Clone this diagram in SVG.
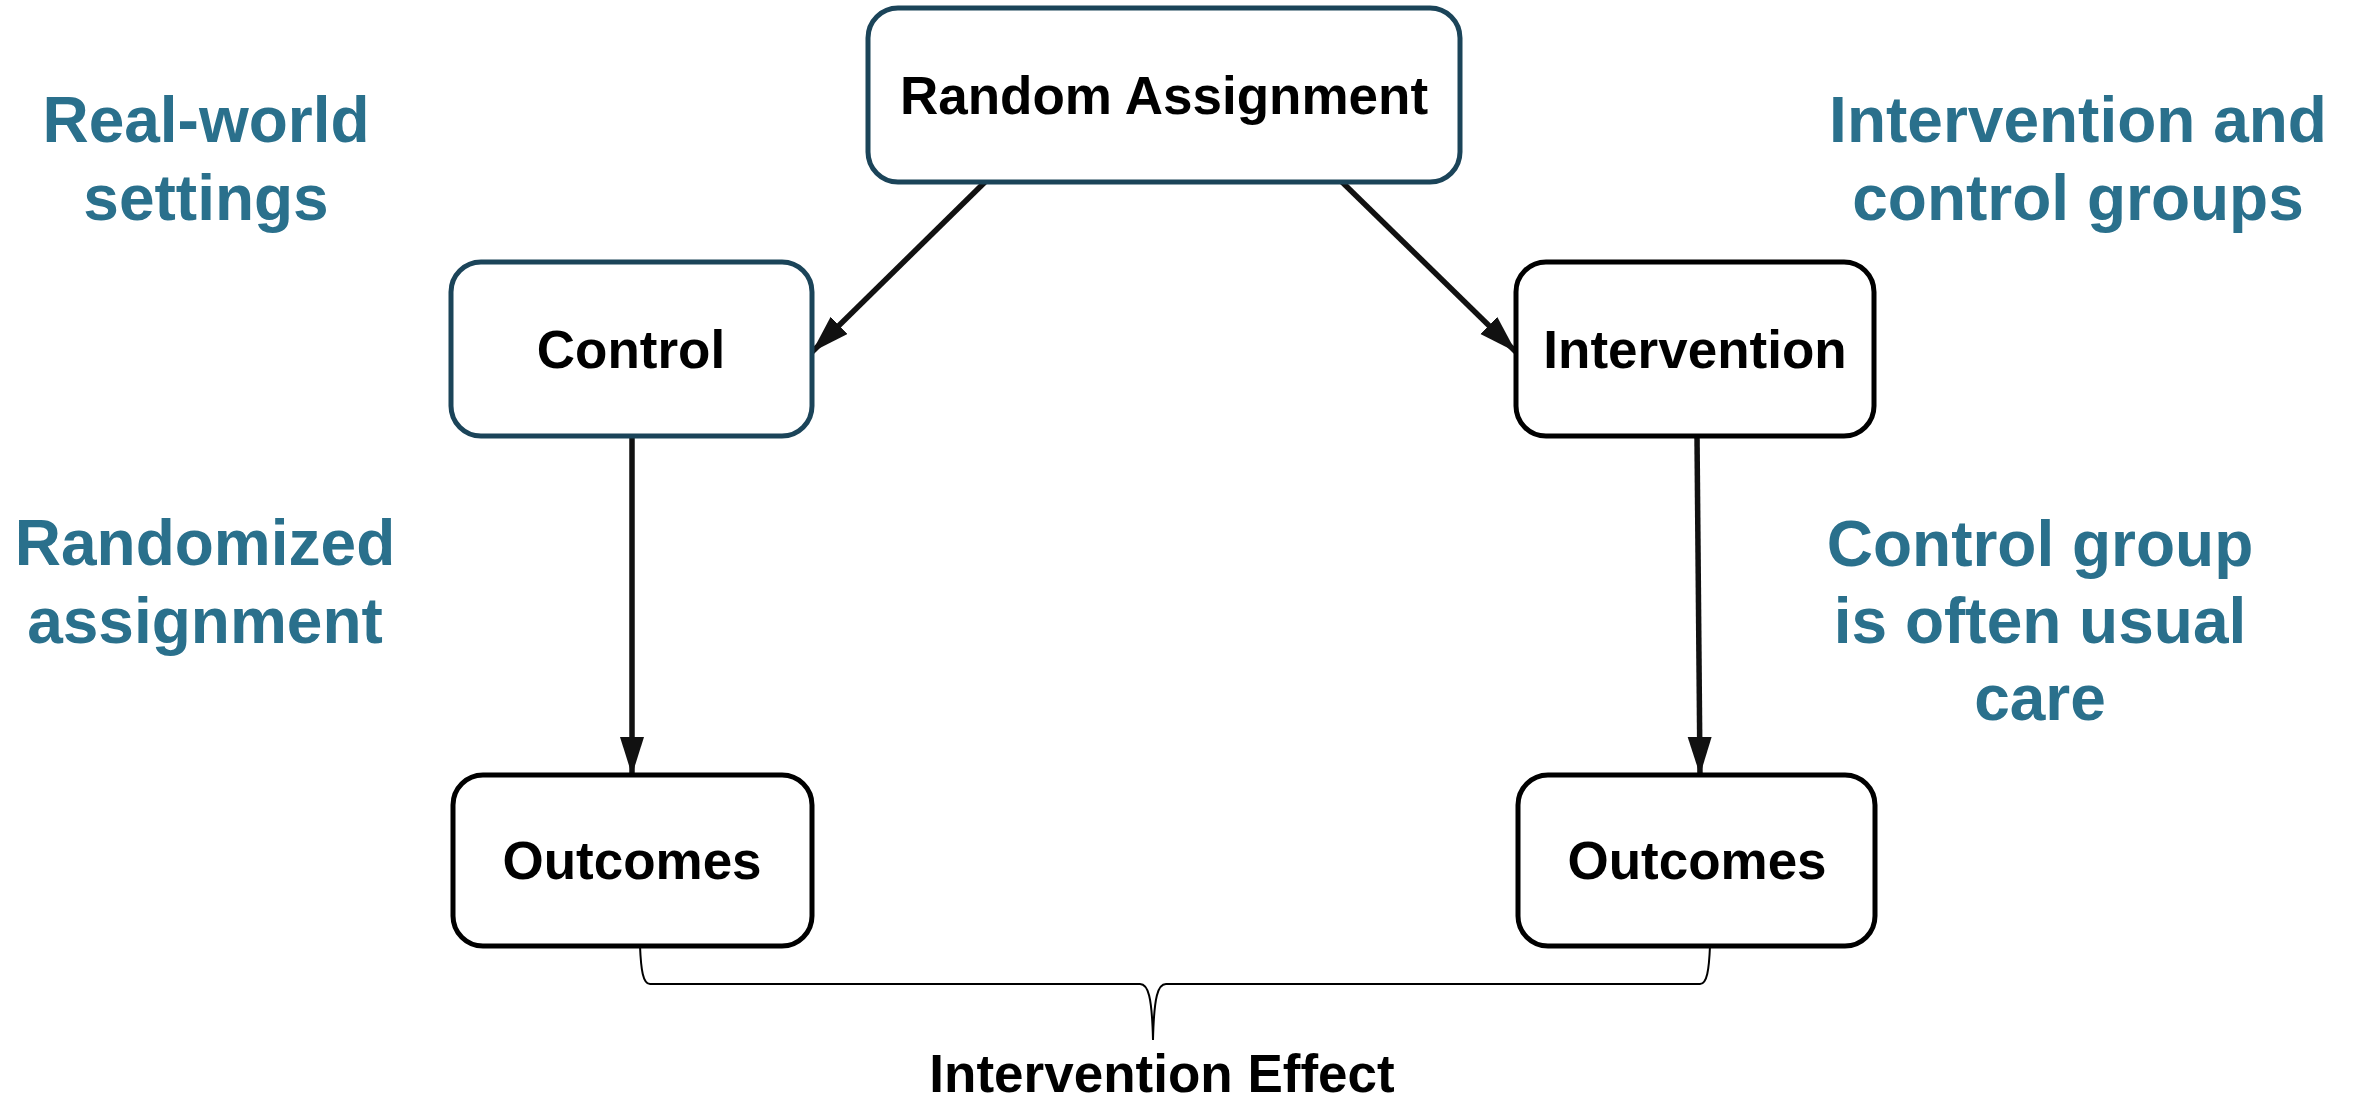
<svg xmlns="http://www.w3.org/2000/svg" width="2358" height="1099" viewBox="0 0 2358 1099">
  <style>
    .box { fill: #ffffff; stroke-width: 5; }
    .teal { stroke: #1b4459; }
    .dark { stroke: #000000; }
    .label { font-family: "Liberation Sans", Arial, sans-serif; font-weight: bold; font-size: 53px; fill: #000000; text-anchor: middle; }
    .note { font-family: "Liberation Sans", Arial, sans-serif; font-weight: bold; font-size: 64px; fill: #2a708c; text-anchor: middle; }
    .conn { stroke: #111111; stroke-width: 5.5; fill: none; }
    .brace { stroke: #000000; stroke-width: 2; fill: none; }
  </style>
  <defs>
    <marker id="arrow" markerUnits="userSpaceOnUse" markerWidth="42" markerHeight="26" refX="38" refY="12" orient="auto">
      <path d="M0,0 L38,12 L0,24 z" fill="#111111"/>
    </marker>
  </defs>
  <rect width="2358" height="1099" fill="#ffffff"/>

  <g id="connectors">
    <line class="conn" x1="985" y1="182" x2="812" y2="352" marker-end="url(#arrow)"/>
    <line class="conn" x1="1342" y1="182" x2="1516" y2="352" marker-end="url(#arrow)"/>
    <line class="conn" x1="632" y1="436" x2="632" y2="775" marker-end="url(#arrow)"/>
    <line class="conn" x1="1697" y1="436" x2="1700" y2="775" marker-end="url(#arrow)"/>
  </g>

  <g id="node-random-assignment">
    <rect class="box teal" x="868" y="8" width="592" height="174" rx="30"/>
    <text class="label" x="1164" y="114">Random Assignment</text>
  </g>
  <g id="node-control">
    <rect class="box teal" x="451" y="262" width="361" height="174" rx="30"/>
    <text class="label" x="631" y="368">Control</text>
  </g>
  <g id="node-intervention">
    <rect class="box dark" x="1516" y="262" width="358" height="174" rx="30"/>
    <text class="label" x="1695" y="368">Intervention</text>
  </g>
  <g id="node-outcomes-control">
    <rect class="box dark" x="453" y="775" width="359" height="171" rx="30"/>
    <text class="label" x="632" y="879">Outcomes</text>
  </g>
  <g id="node-outcomes-intervention">
    <rect class="box dark" x="1518" y="775" width="357" height="171" rx="30"/>
    <text class="label" x="1697" y="879">Outcomes</text>
  </g>

  <g id="brace-effect">
    <path class="brace" d="M640,946 C641,970 643,984 650,984 L1140,984 C1148,984 1152,996 1153,1040 C1154,996 1158,984 1166,984 L1700,984 C1707,984 1709,970 1710,946"/>
    <text class="label" x="1162" y="1092">Intervention Effect</text>
  </g>

  <g id="note-real-world">
    <text class="note" x="206" y="142">Real-world</text>
    <text class="note" x="206" y="220">settings</text>
  </g>
  <g id="note-randomized">
    <text class="note" x="205" y="565">Randomized</text>
    <text class="note" x="205" y="643">assignment</text>
  </g>
  <g id="note-groups">
    <text class="note" x="2078" y="142">Intervention and</text>
    <text class="note" x="2078" y="220">control groups</text>
  </g>
  <g id="note-usual-care">
    <text class="note" x="2040" y="566">Control group</text>
    <text class="note" x="2040" y="643">is often usual</text>
    <text class="note" x="2040" y="720">care</text>
  </g>
</svg>
